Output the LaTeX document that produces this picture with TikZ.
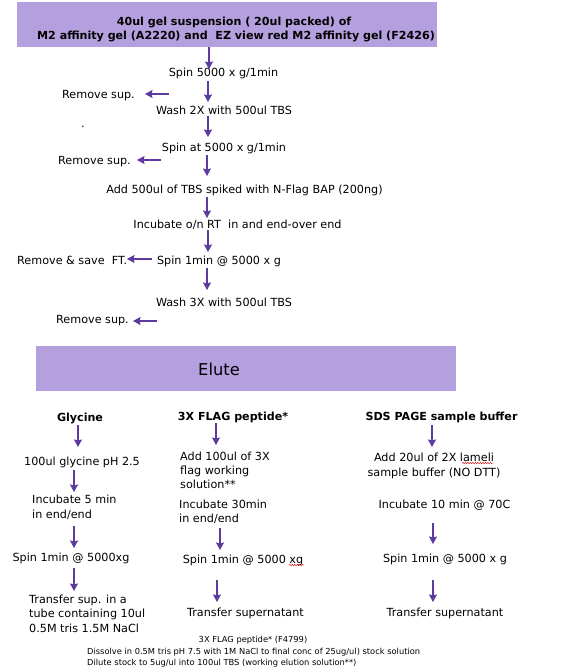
\documentclass[tikz,border=0pt]{standalone}
\usepackage{fontspec}
\setmainfont{DejaVu Sans}
\usetikzlibrary{arrows.meta,decorations.pathmorphing}
\definecolor{boxc}{RGB}{180,160,222}
\definecolor{arrc}{RGB}{92,58,158}
\definecolor{wavy}{RGB}{220,30,30}
\tikzset{
  txt/.style={inner sep=0pt, font=\fontsize{11.2}{13}\selectfont, anchor=base},
  txtl/.style={txt, anchor=base west},
  hdr/.style={txt, font=\fontsize{11.1}{13}\selectfont\bfseries},
  foot/.style={inner sep=0pt, font=\fontsize{8.3}{10}\selectfont, anchor=base},
  footl/.style={foot, anchor=base west},
  arr/.style={draw=arrc, line width=1.2pt, -{Stealth[length=7.5pt,width=8pt,inset=1pt]}},
  band/.style={fill=boxc, draw=none},
  squig/.style={draw=wavy, line width=0.5pt, decorate, decoration={snake, amplitude=0.7pt, segment length=2.5pt}}
}
\begin{document}
\begin{tikzpicture}[x=1pt,y=-1pt]
\useasboundingbox (0,0) rectangle (577,670);
% top box
\path[band] (17,2) rectangle (437,47);
\node[hdr] (t1) at (234,25) {40ul gel suspension ( 20ul packed) of};
\node[hdr] (t2) at (236,39) {M2 affinity gel (A2220) and\ \ EZ view red M2 affinity gel (F2426)};
\coordinate (topb) at (209,47);
% main column
\node[txt] (s1) at (223.5,76) {Spin 5000 x g/1min};
\node[txtl] (r1) at (62,98) {Remove sup.};
\node[txt] (w1) at (224,114) {Wash 2X with 500ul TBS};
\node[txt] (dot) at (83,127) {.};
\node[txt] (s2) at (224,151) {Spin at 5000 x g/1min};
\node[txtl] (r2) at (58,164) {Remove sup.};
\node[txt] (ad) at (244.5,193) {Add 500ul of TBS spiked with N-Flag BAP (200ng)};
\node[txt] (inc) at (237.5,228) {Incubate o/n RT\ \ in and end-over end};
\node[txt] (s3) at (219,264) {Spin 1min @ 5000 x g};
\node[txtl] (r3) at (17,264) {Remove \& save\ \ FT.};
\node[txt] (w3) at (224,306) {Wash 3X with 500ul TBS};
\node[txtl] (r4) at (56,323) {Remove sup.};
% main arrows
\coordinate (a1e) at (209,69);
\coordinate (a2s) at (208,81);  \coordinate (a2e) at (208,102);
\coordinate (a3s) at (208,116); \coordinate (a3e) at (208,137);
\coordinate (a4s) at (207,155); \coordinate (a4e) at (207,176);
\coordinate (a5s) at (207,197); \coordinate (a5e) at (207,218);
\coordinate (a6s) at (208,230); \coordinate (a6e) at (208,252);
\coordinate (a7s) at (207,268); \coordinate (a7e) at (207,290);
\draw[arr] (topb) -- (a1e);
\draw[arr] (a2s) -- (a2e);
\draw[arr] (a3s) -- (a3e);
\draw[arr] (a4s) -- (a4e);
\draw[arr] (a5s) -- (a5e);
\draw[arr] (a6s) -- (a6e);
\draw[arr] (a7s) -- (a7e);
% side arrows
\coordinate (l1s) at (169,94); \coordinate (l1e) at (145,94);
\coordinate (l2s) at (161,160); \coordinate (l2e) at (137,160);
\coordinate (l3s) at (152,259); \coordinate (l3e) at (127,259);
\coordinate (l4s) at (157,321); \coordinate (l4e) at (133,321);
\draw[arr] (l1s) -- (l1e);
\draw[arr] (l2s) -- (l2e);
\draw[arr] (l3s) -- (l3e);
\draw[arr] (l4s) -- (l4e);
% elute band
\path[band] (36,346) rectangle (456,391);
\node[inner sep=0pt, font=\fontsize{16.3}{19}\selectfont, anchor=base] (el) at (219,375) {Elute};
% column 1
\node[hdr] (g0) at (80,421) {Glycine};
\node[txt] (g1) at (82,465) {100ul glycine pH 2.5};
\node[txtl] (g2a) at (32,503) {Incubate 5 min};
\node[txtl] (g2b) at (32,518) {in end/end};
\node[txt] (g3) at (71,561) {Spin 1min @ 5000xg};
\node[txtl] (g4a) at (29,603) {Transfer sup. in a};
\node[txtl] (g4b) at (29,617) {tube containing 10ul};
\node[txtl] (g4c) at (29,632) {0.5M tris 1.5M NaCl};
\coordinate (c1as) at (78,425); \coordinate (c1ae) at (78,447);
\coordinate (c1bs) at (74,470); \coordinate (c1be) at (74,492);
\coordinate (c1cs) at (74,526); \coordinate (c1ce) at (74,548);
\coordinate (c1ds) at (74,568); \coordinate (c1de) at (74,591);
\draw[arr] (c1as) -- (c1ae);
\draw[arr] (c1bs) -- (c1be);
\draw[arr] (c1cs) -- (c1ce);
\draw[arr] (c1ds) -- (c1de);
% column 2
\node[hdr] (f0) at (233,420) {3X FLAG peptide*};
\node[txtl] (f1a) at (180,460) {Add 100ul of 3X};
\node[txtl] (f1b) at (180,474) {flag working};
\node[txtl] (f1c) at (180,488) {solution**};
\node[txtl] (f2a) at (179,508) {Incubate 30min};
\node[txtl] (f2b) at (179,522) {in end/end};
\node[txt] (f3) at (243,563) {Spin 1min @ 5000 xg};
\node[txt] (f4) at (245.5,616) {Transfer supernatant};
\coordinate (c2as) at (216,423); \coordinate (c2ae) at (216,445);
\coordinate (c2bs) at (220,528); \coordinate (c2be) at (220,550);
\coordinate (c2cs) at (217,580); \coordinate (c2ce) at (217,602);
\draw[arr] (c2as) -- (c2ae);
\draw[arr] (c2bs) -- (c2be);
\draw[arr] (c2cs) -- (c2ce);
\coordinate (sq1s) at (289,565); \coordinate (sq1e) at (304,565);
\draw[squig] (sq1s) -- (sq1e);
% column 3
\node[hdr] (p0) at (441.5,420) {SDS PAGE sample buffer};
\node[txt] (p1a) at (434,461) {Add 20ul of 2X lameli};
\node[txt] (p1b) at (434,476) {sample buffer (NO DTT)};
\node[txt] (p2) at (444.5,508) {Incubate 10 min @ 70C};
\node[txt] (p3) at (445,562) {Spin 1min @ 5000 x g};
\node[txt] (p4) at (445,616) {Transfer supernatant};
\coordinate (c3as) at (432,425); \coordinate (c3ae) at (432,447);
\coordinate (c3bs) at (433,523); \coordinate (c3be) at (433,544);
\coordinate (c3cs) at (433,580); \coordinate (c3ce) at (433,602);
\draw[arr] (c3as) -- (c3ae);
\draw[arr] (c3bs) -- (c3be);
\draw[arr] (c3cs) -- (c3ce);
\coordinate (sq2s) at (462,463); \coordinate (sq2e) at (493,463);
\draw[squig] (sq2s) -- (sq2e);
% footnotes
\node[foot] (n1) at (253,642) {3X FLAG peptide* (F4799)};
\node[footl] (n2) at (87,654) {Dissolve in 0.5M tris pH 7.5 with 1M NaCl to final conc of 25ug/ul) stock solution};
\node[footl] (n3) at (87,665) {Dilute stock to 5ug/ul into 100ul TBS (working elution solution**)};
\end{tikzpicture}
\end{document}
